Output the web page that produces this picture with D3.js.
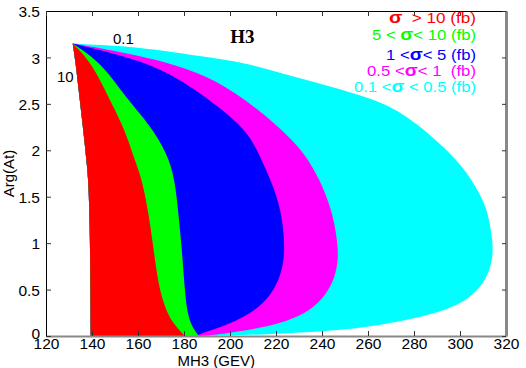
<!DOCTYPE html>
<html>
<head>
<meta charset="utf-8">
<script src="https://cdn.jsdelivr.net/npm/d3@7"></script>
<style>
  body { margin: 0; background: #fff; }
  text { font-family: "Liberation Sans", Arial, Helvetica, sans-serif; }
</style>
</head>
<body>
<div id="chart"></div>
<script>
// bord gauche (limite physique) et contours de sigma, en (MH3, Arg(At))
var leftEdge = [[131.6,3.15],[132.9,2.94],[134.5,2.58],[136.2,2.22],[137.7,1.86],[138.4,1.68],[139.0,1.25],[139.3,0.6],[139.4,0]];

var sigma01 = [[131.6,3.15],[155.1,3.123],[172.2,3.069],[186.5,3.015],[207.3,2.94],[221.7,2.832],[236.2,2.739],[262.2,2.56],
  [276.8,2.38],[291.3,2.075],[301.4,1.823],[308.7,1.537],[312.3,1.321],[313.9,1.069],[314.5,0.894],[313.0,0.711],
  [309.4,0.531],[301.4,0.355],[289.9,0.248],[276.8,0.172],[260.9,0.10],[244.8,0.054],[216.0,0.016],[189.1,0]];

var sigma05 = [[131.6,3.15],[155.1,3.048],[172.2,2.951],[189.6,2.811],[207.3,2.541],[221.7,2.24],[232.2,1.981],[239.1,1.68],
  [244.3,1.357],[246.7,1.034],[247.2,0.797],[244.8,0.571],[240.0,0.388],[232.6,0.237],[221.7,0.135],[208.7,0.065],
  [196.5,0.022],[187.0,0]];

var sigma1 = [[131.6,3.15],[155.1,3.01],[172.2,2.86],[192.7,2.52],[207.3,2.22],[212.8,1.949],[218.3,1.648],[222.2,1.357],
  [223.7,1.034],[223.5,0.797],[220.9,0.571],[216.1,0.388],[208.7,0.237],[200.0,0.135],[192.2,0.065],[187.0,0.022],[184.8,0]];

var sigma5 = [[131.6,3.15],[144.3,2.937],[154.3,2.577],[165.2,2.272],[172.6,1.971],[176.1,1.68],[177.5,1.325],[179.0,0.962],
  [180.0,0.603],[181.3,0.248],[183.5,0.097],[186.5,0]];

var sigma10 = [[131.6,3.15],[140.0,2.937],[147.0,2.577],[153.9,2.251],[159.0,1.863],[161.8,1.68],[164.6,1.325],[166.6,0.962],
  [168.6,0.603],[170.3,0.423],[172.7,0.248],[175.3,0.14],[179.0,0.032],[180.4,0]];

var regions = [sigma01, sigma05, sigma1, sigma5, sigma10];
var regionColors = ["#00ffff", "#ff00ff", "#0000ff", "#00ff00", "#ff0000"];

var xTicks = [120, 140, 160, 180, 200, 220, 240, 260, 280, 300, 320];
var yTicks = [0, 0.5, 1, 1.5, 2, 2.5, 3, 3.5];

// legende : texte avant sigma, texte apres sigma
var legendBefore = ["", "5 < ", "1 <", "0.5 <", "0.1 <"];
var legendAfter = ["\u00a0 > 10 (fb)", "< 10 (fb)", "< 5 (fb)", "< 1 \u00a0(fb)", " < 0.5 (fb)"];
var legendColors = ["#ff0000", "#00ff00", "#0000ff", "#ff00ff", "#00ffff"];

var annotations = [{ text: "0.1", x: 149.1, y: 3.14 }, { text: "10", x: 124.8, y: 2.735 }];

var W = 526, H = 368;
var margin = { top: 11, right: 20, bottom: 32, left: 46 };
var width = 460, height = 325;

var svg = d3.select("#chart").append("svg")
  .attr("width", W).attr("height", H);
var g = svg.append("g").attr("transform", "translate(" + margin.left + "," + margin.top + ")");

var x = d3.scaleLinear().domain([120, 320]).range([0, width]);
var y = d3.scaleLinear().domain([0, 3.5]).range([height, 0]);

var line = d3.line()
  .x(function (d) { return x(d[0]); })
  .y(function (d) { return y(d[1]); })
  .curve(d3.curveBasis);

// chaque zone : bord gauche remonte jusqu'au sommet puis descend par le contour
regions.forEach(function (c, i) {
  var up = line(leftEdge.slice().reverse());
  var down = line(c).replace(/^M/, "L");
  g.append("path")
    .attr("d", up + down + "Z")
    .attr("fill", regionColors[i])
    .attr("stroke", "none");
});

// axes (graduations vers l'interieur)
var ax = g.append("g").attr("transform", "translate(0," + height + ")")
  .call(d3.axisBottom(x).tickValues(xTicks).tickSizeInner(-5).tickSizeOuter(0).tickPadding(2));
ax.select(".domain").attr("stroke", "#888").attr("stroke-width", 2);

var ay = g.append("g")
  .call(d3.axisLeft(y).tickValues(yTicks).tickFormat(d3.format("")).tickSizeInner(-5).tickSizeOuter(0).tickPadding(6));

var at = g.append("g")
  .call(d3.axisTop(x).tickValues(xTicks).tickSizeInner(-5).tickSizeOuter(0).tickFormat(""));

var ar = g.append("g").attr("transform", "translate(" + width + ",0)")
  .call(d3.axisRight(y).tickValues(yTicks).tickSizeInner(-4).tickSizeOuter(0).tickFormat(""));
ar.select(".domain").attr("stroke", "#888").attr("stroke-width", 3);

[ax, ay].forEach(function (a) {
  a.selectAll("text").attr("font-size", 15.5).attr("fill", "#000")
    .style("font-family", "'Liberation Sans', Arial, sans-serif");
});
ay.selectAll("text").attr("dy", function (d) { return d === 0 ? "0.15em" : "0.36em"; });
g.selectAll(".tick line").attr("stroke", "#333");

// titres des axes
svg.append("text")
  .attr("x", margin.left + x(194)).attr("y", 366)
  .attr("text-anchor", "middle").attr("font-size", 15)
  .text("MH3 (GEV)");

svg.append("text")
  .attr("transform", "translate(14," + (margin.top + y(1.75)) + ") rotate(-90)")
  .attr("text-anchor", "middle").attr("font-size", 15)
  .text("Arg(At)");

// titre
g.append("text")
  .attr("x", x(205.4)).attr("y", y(3.16))
  .attr("text-anchor", "middle")
  .attr("font-size", 19).attr("font-weight", "bold")
  .style("font-family", "'Liberation Serif', 'Times New Roman', serif")
  .text("H3");

// annotations des contours
annotations.forEach(function (a) {
  g.append("text")
    .attr("x", x(a.x)).attr("y", y(a.y))
    .attr("font-size", 15)
    .text(a.text);
});

// legende
var legendY = [23, 40, 60, 75.5, 92];
var legendW = [87, 104, 90, 109, 122];
legendBefore.forEach(function (b, i) {
  var t = svg.append("text")
    .attr("x", 476).attr("y", legendY[i])
    .attr("text-anchor", "end")
    .attr("font-size", 14)
    .attr("fill", legendColors[i])
    .attr("textLength", legendW[i])
    .attr("lengthAdjust", "spacingAndGlyphs");
  t.append("tspan").text(b);
  t.append("tspan").attr("font-size", 16).attr("font-weight", "bold").text("σ");
  t.append("tspan").text(legendAfter[i]);
});
</script>
</body>
</html>
